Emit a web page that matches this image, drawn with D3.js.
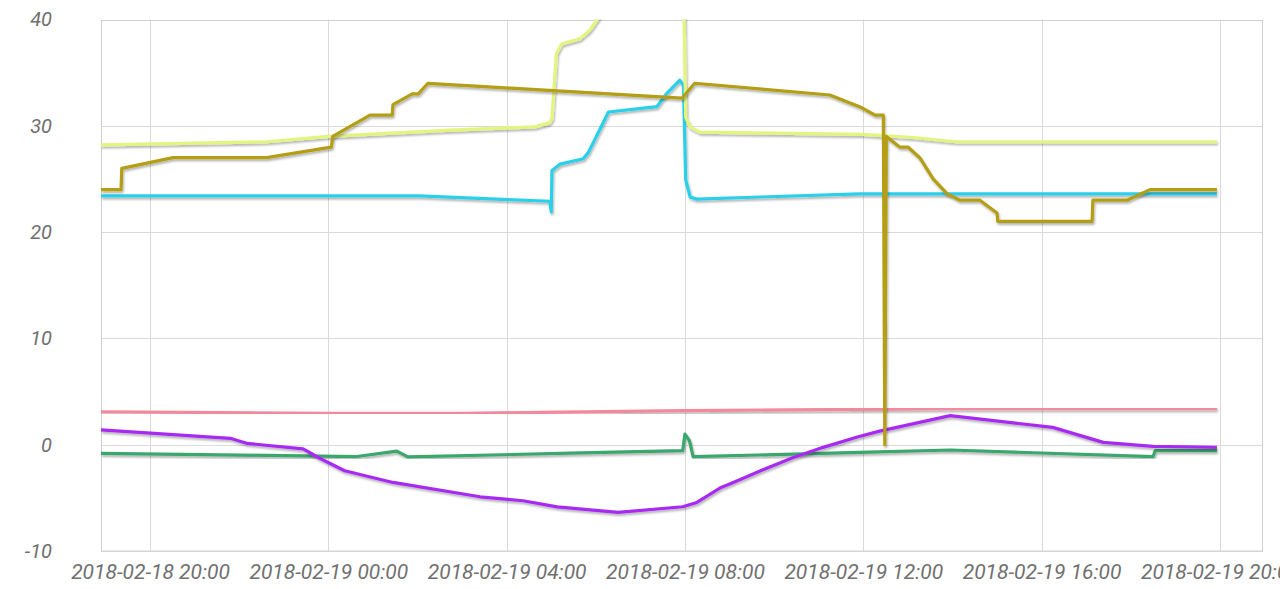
<!DOCTYPE html>
<html>
<head>
<meta charset="utf-8">
<script src="https://cdn.jsdelivr.net/npm/d3@7"></script>
<style>
  html, body { margin: 0; padding: 0; background: #fff; overflow: hidden; }
  svg { display: block; }
  .tick text { font-family: Roboto, "Noto Sans", sans-serif; font-style: italic; fill: #707070; }
</style>
</head>
<body>
<svg id="chart" width="1280" height="589"></svg>
<script>
// ---- data (time, value) ----
const xDomain = ["2018-02-18 18:54", "2018-02-19 20:58"];
const yDomain = [-10, 40];
const yTicks = [-10, 0, 10, 20, 30, 40];

const oliveSeries = [
  ["2018-02-18 18:54", 24], ["2018-02-18 19:21", 24], ["2018-02-18 19:22", 26],
  ["2018-02-18 20:31", 27], ["2018-02-18 22:37", 27], ["2018-02-19 00:04", 28],
  ["2018-02-19 00:06", 29], ["2018-02-19 00:56", 31], ["2018-02-19 01:26", 31],
  ["2018-02-19 01:27", 32], ["2018-02-19 01:53", 33], ["2018-02-19 02:01", 33],
  ["2018-02-19 02:14", 34], ["2018-02-19 07:56", 32.6], ["2018-02-19 08:13", 34],
  ["2018-02-19 11:15", 32.9], ["2018-02-19 11:55", 31.8], ["2018-02-19 12:16", 31],
  ["2018-02-19 12:27", 31], ["2018-02-19 12:29", 0], ["2018-02-19 12:31", 29],
  ["2018-02-19 12:49", 28], ["2018-02-19 13:00", 28], ["2018-02-19 13:16", 27],
  ["2018-02-19 13:34", 25], ["2018-02-19 13:53", 23.6], ["2018-02-19 14:10", 23],
  ["2018-02-19 14:37", 23], ["2018-02-19 15:00", 21.8], ["2018-02-19 15:01", 21],
  ["2018-02-19 17:08", 21], ["2018-02-19 17:09", 23], ["2018-02-19 17:55", 23],
  ["2018-02-19 18:26", 24], ["2018-02-19 19:56", 24]
];

const limeSeries = [
  ["2018-02-18 18:54", 28.2], ["2018-02-18 22:37", 28.5], ["2018-02-19 00:00", 29.0],
  ["2018-02-19 02:44", 29.6], ["2018-02-19 04:38", 29.9], ["2018-02-19 04:58", 30.3],
  ["2018-02-19 05:01", 30.7], ["2018-02-19 05:07", 36.8], ["2018-02-19 05:14", 37.7],
  ["2018-02-19 05:39", 38.2], ["2018-02-19 05:52", 39], ["2018-02-19 06:02", 40],
  ["2018-02-19 06:19", 42.5], ["2018-02-19 07:58", 44], ["2018-02-19 08:01", 30.8],
  ["2018-02-19 08:07", 29.9], ["2018-02-19 08:20", 29.4], ["2018-02-19 12:00", 29.2],
  ["2018-02-19 13:07", 28.9], ["2018-02-19 14:06", 28.5], ["2018-02-19 19:56", 28.5]
];

const cyanSeries = [
  ["2018-02-18 18:54", 23.4], ["2018-02-19 02:03", 23.4], ["2018-02-19 04:58", 22.9],
  ["2018-02-19 05:00", 21.9], ["2018-02-19 05:01", 25.8], ["2018-02-19 05:12", 26.4],
  ["2018-02-19 05:43", 26.9], ["2018-02-19 05:50", 27.5], ["2018-02-19 06:17", 31.3],
  ["2018-02-19 07:22", 31.8], ["2018-02-19 07:35", 33.0], ["2018-02-19 07:53", 34.3],
  ["2018-02-19 07:58", 33.8], ["2018-02-19 08:01", 24.9], ["2018-02-19 08:07", 23.3],
  ["2018-02-19 08:16", 23.1], ["2018-02-19 09:41", 23.3], ["2018-02-19 11:55", 23.6],
  ["2018-02-19 19:56", 23.6]
];

const pinkSeries = [
  ["2018-02-18 18:54", 3.1], ["2018-02-19 00:00", 2.95], ["2018-02-19 03:00", 2.95],
  ["2018-02-19 08:00", 3.2], ["2018-02-19 14:00", 3.4], ["2018-02-19 19:56", 3.4]
];

const purpleSeries = [
  ["2018-02-18 18:54", 1.4], ["2018-02-18 21:48", 0.6], ["2018-02-18 22:11", 0.12],
  ["2018-02-18 23:26", -0.4], ["2018-02-18 23:49", -1.3], ["2018-02-19 00:22", -2.45],
  ["2018-02-19 01:27", -3.55], ["2018-02-19 03:24", -4.9], ["2018-02-19 04:22", -5.27],
  ["2018-02-19 05:08", -5.85], ["2018-02-19 06:30", -6.37], ["2018-02-19 07:57", -5.84],
  ["2018-02-19 08:16", -5.43], ["2018-02-19 08:47", -4.08], ["2018-02-19 09:05", -3.55],
  ["2018-02-19 09:45", -2.35], ["2018-02-19 10:25", -1.22], ["2018-02-19 11:06", -0.25],
  ["2018-02-19 11:52", 0.72], ["2018-02-19 12:22", 1.28], ["2018-02-19 13:57", 2.73],
  ["2018-02-19 16:15", 1.63], ["2018-02-19 17:23", 0.22], ["2018-02-19 18:30", -0.16],
  ["2018-02-19 19:56", -0.25]
];

const greenSeries = [
  ["2018-02-18 18:54", -0.82], ["2018-02-18 23:26", -1.05], ["2018-02-19 00:36", -1.13],
  ["2018-02-19 01:32", -0.6], ["2018-02-19 01:47", -1.15], ["2018-02-19 05:25", -0.8],
  ["2018-02-19 07:57", -0.55], ["2018-02-19 08:00", 1.0], ["2018-02-19 08:06", 0.38],
  ["2018-02-19 08:11", -1.13], ["2018-02-19 11:55", -0.72], ["2018-02-19 13:57", -0.5],
  ["2018-02-19 18:30", -1.13], ["2018-02-19 18:33", -0.56], ["2018-02-19 19:56", -0.56]
];

const seriesList = [
  { name: "pink",   data: pinkSeries,   color: "#f28a9c" },
  { name: "green",  data: greenSeries,  color: "#3aa76c" },
  { name: "purple", data: purpleSeries, color: "#a82cf2" },
  { name: "cyan",   data: cyanSeries,   color: "#2ad0ea" },
  { name: "lime",   data: limeSeries,   color: "#e4f57e" },
  { name: "olive",  data: oliveSeries,  color: "#b39e12" }
];

// ---- drawing ----
const parse = d3.timeParse("%Y-%m-%d %H:%M");
const fmt = d3.timeFormat("%Y-%m-%d %H:%M");
const M = { left: 101, right: 1263, top: 19.5, bottom: 551 };

const svg = d3.select("#chart");
const x = d3.scaleTime().domain(xDomain.map(parse)).range([M.left, M.right]);
const y = d3.scaleLinear().domain(yDomain).range([M.bottom, M.top]);

const defs = svg.append("defs");
defs.append("clipPath").attr("id", "plotclip")
  .append("rect").attr("x", M.left).attr("y", M.top)
  .attr("width", M.right - M.left).attr("height", M.bottom - M.top);
const f = defs.append("filter").attr("id", "shadow")
  .attr("x", "-5%").attr("y", "-5%").attr("width", "110%").attr("height", "110%");
f.append("feDropShadow").attr("dx", 1).attr("dy", 2).attr("stdDeviation", 1.2)
  .attr("flood-color", "#000").attr("flood-opacity", 0.3);

// grid
const grid = svg.append("g");
grid.selectAll("line.h").data(yTicks).join("line")
  .attr("x1", M.left).attr("x2", M.right)
  .attr("y1", d => Math.round(y(d)) + 0.5).attr("y2", d => Math.round(y(d)) + 0.5)
  .attr("stroke", "#dadada").attr("stroke-width", 1);
const xTickVals = x.ticks(d3.timeHour.every(4));
grid.selectAll("line.v").data(xTickVals).join("line")
  .attr("y1", M.top).attr("y2", M.bottom)
  .attr("x1", d => Math.round(x(d)) + 0.5).attr("x2", d => Math.round(x(d)) + 0.5)
  .attr("stroke", "#dadada").attr("stroke-width", 1);
grid.append("rect")
  .attr("x", M.left + 0.5).attr("y", Math.round(M.top) + 0.5)
  .attr("width", M.right - M.left - 1).attr("height", M.bottom - Math.round(M.top) - 0.5)
  .attr("fill", "none").attr("stroke", "#d0d0d0");

// axes
const yAxis = d3.axisLeft(y).tickValues(yTicks).tickFormat(d => String(d)).tickSize(0).tickPadding(49);
svg.append("g").attr("transform", `translate(${M.left},0)`).call(yAxis)
  .call(g => g.select(".domain").remove())
  .selectAll("text").style("font-size", "20px");

const xAxis = d3.axisBottom(x).tickValues(xTickVals).tickFormat(fmt).tickSize(0).tickPadding(13);
svg.append("g").attr("transform", `translate(0,${M.bottom})`).call(xAxis)
  .call(g => g.select(".domain").remove())
  .selectAll("text").style("font-size", "21px");

// lines
const line = d3.line()
  .x(d => x(parse(d[0])))
  .y(d => y(d[1]));
const lines = svg.append("g").attr("clip-path", "url(#plotclip)");
lines.selectAll("path").data(seriesList).join("path")
  .attr("d", s => line(s.data))
  .attr("fill", "none")
  .attr("stroke", s => s.color)
  .attr("stroke-width", 3.2)
  .attr("stroke-linejoin", "round")
  .attr("filter", "url(#shadow)");
</script>
</body>
</html>
